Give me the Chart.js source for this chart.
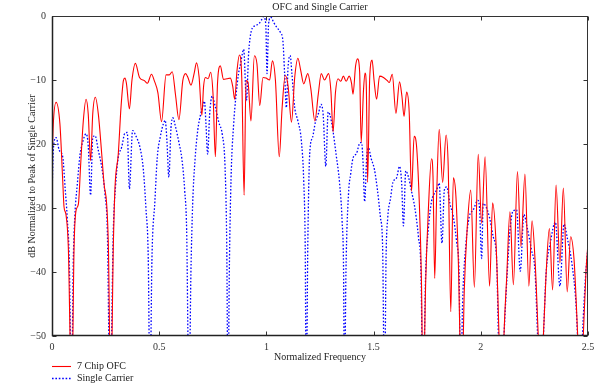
<!DOCTYPE html>
<html>
<head>
<meta charset="utf-8">
<script src="https://cdn.jsdelivr.net/npm/chart.js@4.4.1/dist/chart.umd.min.js"></script>
<style>
  html, body { margin: 0; padding: 0; background: #fff; }
  #wrap { width: 600px; height: 387px; }
</style>
</head>
<body>
<div id="wrap"><canvas id="chart" width="600" height="387"></canvas></div>
<script>
/* ---------- DATA ---------- */
const xTicks = [0, 0.5, 1, 1.5, 2, 2.5];
const yTicks = [0, -10, -20, -30, -40, -50];

// 7 Chip OFC (red, solid)
const ofcFreq = [
  0, 0.006, 0.019, 0.037, 0.050, 0.056, 0.065, 0.076, 0.092, 0.103, 0.112, 0.123, 0.134, 0.146,
  0.159, 0.169, 0.180, 0.190, 0.202, 0.216, 0.232, 0.243, 0.255, 0.263, 0.274, 0.286, 0.294,
  0.309, 0.322, 0.333, 0.340, 0.347, 0.361, 0.373, 0.389, 0.408, 0.431, 0.445, 0.464, 0.477,
  0.494, 0.511, 0.532, 0.547, 0.561, 0.576, 0.592, 0.610, 0.623, 0.634, 0.648, 0.664, 0.674,
  0.686, 0.699, 0.707, 0.716, 0.728, 0.740, 0.751, 0.762, 0.772, 0.785, 0.800, 0.816, 0.832,
  0.843, 0.852, 0.863, 0.874, 0.885, 0.896, 0.905, 0.914, 0.928, 0.944, 0.956, 0.969, 0.984,
  0.998, 1.015, 1.028, 1.042, 1.060, 1.073, 1.088, 1.101, 1.117, 1.132, 1.147, 1.160, 1.174,
  1.193, 1.207, 1.226, 1.242, 1.256, 1.271, 1.290, 1.301, 1.311, 1.322, 1.334, 1.347, 1.359,
  1.372, 1.386, 1.397, 1.404, 1.416, 1.425, 1.435, 1.442, 1.453, 1.460, 1.466, 1.472, 1.482,
  1.493, 1.502, 1.514, 1.528, 1.546, 1.564, 1.573, 1.587, 1.604, 1.621, 1.632, 1.642, 1.654,
  1.666, 1.677, 1.689, 1.700, 1.713, 1.723, 1.731, 1.743, 1.755, 1.770, 1.777, 1.785, 1.794,
  1.806, 1.822, 1.838, 1.848, 1.860, 1.872, 1.884, 1.895, 1.911, 1.923, 1.937, 1.953, 1.970,
  1.988, 2.004, 2.020, 2.041, 2.055, 2.071, 2.085, 2.097, 2.108, 2.121, 2.136, 2.152, 2.171,
  2.187, 2.206, 2.224, 2.239, 2.253, 2.268, 2.281, 2.292, 2.304, 2.320, 2.335, 2.351, 2.369,
  2.385, 2.403, 2.419, 2.435, 2.452, 2.465, 2.478, 2.491, 2.5
];
const ofcDb = [
  -23, -16.9, -13.5, -16.9, -25.7, -29.8, -31, -36, -60, -36, -30.4, -29.4, -23, -16.4,
  -13, -15.3, -22.6, -15.3, -12.7, -15.3, -21.6, -26.3, -29.4, -36, -60, -36, -26.7,
  -21.6, -14.2, -10.1, -9.7, -10.5, -14.5, -10, -7.4, -9.6, -10.1, -10.5, -9.1, -10.1,
  -12, -16.5, -9.2, -9.2, -8.7, -12.3, -16.2, -10.1, -9, -9.6, -10.8, -8.8, -7.3,
  -9.5, -15.5, -11, -9.6, -9.8, -8.8, -12.2, -22, -10.5, -7.8, -9.9, -9.8, -9.7,
  -11, -13, -8.5, -6.1, -9.6, -28, -10.1, -10.3, -16.4, -6.2, -7.5, -14, -9.6,
  -9.7, -10, -7, -10, -22, -14.5, -9.3, -10.9, -16.6, -9.6, -6.6, -8.5, -10.6,
  -9, -11.3, -16.4, -12.2, -9, -10, -9, -11.8, -18.1, -12, -9.8, -10.2, -9.4,
  -10.2, -9.4, -10.5, -12.2, -7.8, -6.7, -8.8, -19.7, -11.5, -8.9, -11, -26, -9.5,
  -6.9, -10, -13, -9.4, -9.6, -10.1, -10.4, -9.1, -15.2, -10.3, -12.5, -15.7, -11.9,
  -15, -27.4, -18.8, -20.2, -29, -41, -60, -41.5, -30.6, -22.3, -25, -41, -28.2,
  -17.7, -26, -18.6, -23.5, -46.2, -25.3, -28.2, -38.1, -60, -42.8, -32.9, -27.2, -42.4,
  -21.6, -32.4, -22, -42.2, -29.2, -35.5, -50, -65, -50, -40.7, -30.6, -42, -24.3,
  -36, -24.7, -42.2, -32, -38.1, -50, -60, -50, -40.7, -33.2, -42.8, -26.4, -38.6,
  -26.9, -43.1, -34.5, -38.1, -50, -60, -50, -39.7, -35.5
];

// Single Carrier (blue, dotted)
const scFreq = [
  0, 0.007, 0.019, 0.034, 0.050, 0.061, 0.071, 0.081, 0.091, 0.099, 0.107, 0.118, 0.131, 0.143,
  0.159, 0.169, 0.180, 0.190, 0.201, 0.216, 0.232, 0.247, 0.258, 0.271, 0.286, 0.297, 0.309,
  0.325, 0.340, 0.351, 0.361, 0.376, 0.392, 0.410, 0.426, 0.438, 0.449, 0.457, 0.466, 0.480,
  0.491, 0.505, 0.519, 0.528, 0.536, 0.545, 0.555, 0.563, 0.576, 0.591, 0.606, 0.619, 0.628,
  0.639, 0.648, 0.656, 0.667, 0.680, 0.693, 0.704, 0.711, 0.718, 0.726, 0.735, 0.747, 0.761,
  0.778, 0.794, 0.807, 0.815, 0.821, 0.827, 0.835, 0.847, 0.858, 0.870, 0.880, 0.889, 0.894,
  0.907, 0.917, 0.930, 0.948, 0.964, 0.976, 0.987, 0.997, 1.003, 1.010, 1.021, 1.034, 1.049,
  1.066, 1.077, 1.085, 1.093, 1.101, 1.111, 1.119, 1.132, 1.147, 1.163, 1.174, 1.181, 1.186,
  1.193, 1.202, 1.215, 1.229, 1.243, 1.255, 1.265, 1.277, 1.288, 1.296, 1.309, 1.325, 1.341,
  1.353, 1.360, 1.364, 1.371, 1.383, 1.393, 1.404, 1.420, 1.437, 1.444, 1.451, 1.458, 1.468,
  1.476, 1.488, 1.504, 1.518, 1.532, 1.542, 1.551, 1.558, 1.566, 1.579, 1.590, 1.607, 1.621,
  1.631, 1.639, 1.650, 1.663, 1.677, 1.692, 1.709, 1.721, 1.730, 1.743, 1.756, 1.770, 1.782,
  1.794, 1.806, 1.819, 1.830, 1.841, 1.856, 1.872, 1.888, 1.899, 1.906, 1.915, 1.931, 1.946,
  1.965, 1.986, 1.994, 2.004, 2.011, 2.024, 2.040, 2.058, 2.074, 2.082, 2.094, 2.108, 2.124,
  2.136, 2.150, 2.167, 2.184, 2.201, 2.216, 2.236, 2.253, 2.265, 2.276, 2.292, 2.304, 2.325,
  2.348, 2.369, 2.388, 2.404, 2.425, 2.444, 2.451, 2.463, 2.474, 2.489, 2.5
];
const scDb = [
  -28, -20.5, -19, -21, -22, -26.8, -31.5, -38.8, -60, -38.8, -31, -26.3, -21.6, -19.7,
  -18.4, -20.3, -28, -19, -18.7, -21, -23.6, -27.8, -33.5, -60, -33.5, -26.3, -22.1,
  -20.5, -18.3, -18.2, -27, -17.9, -18.8, -20.5, -24, -30, -38, -60, -38.2, -28.9,
  -22.1, -18.9, -16.9, -16.3, -19.5, -25.2, -17.5, -15.9, -17.3, -19.6, -22.4, -27.3, -33.5,
  -60, -40, -29.5, -22.5, -17.8, -15.4, -14, -13.3, -16.8, -21.6, -15.5, -12.5, -14.1,
  -16.6, -18.5, -23.5, -35.8, -60, -40, -25.5, -17, -12.5, -9, -7.4, -5.7, -5.2,
  -13.2, -5.9, -2.3, -1.5, -1.25, -0.7, -0.1, -1.3, -9, -1.3, -0.2, -1, -1.8,
  -2.6, -3.9, -9, -14.3, -8, -6.2, -9, -14.3, -16.4, -19.5, -25.7, -36, -60,
  -36, -21.5, -19, -16.5, -15.2, -13.8, -15.5, -23.5, -15, -15.4, -17.6, -21.6, -26,
  -32, -40, -60, -40, -27.8, -24.7, -22.2, -21.5, -19.8, -19.8, -23, -29, -22,
  -20.6, -22.2, -24, -27.2, -31.5, -36, -60, -38, -31.5, -28.5, -26, -25.3, -23.5,
  -26.2, -32.8, -24.2, -25.2, -27.4, -29.9, -34.5, -40, -60, -40, -33, -29, -27.8,
  -27.2, -26.1, -35.5, -27.2, -26.7, -29.3, -31.4, -35.5, -40.7, -60, -45, -35.5, -31.4,
  -30.3, -28.8, -30, -37.9, -29.3, -29.8, -31.4, -34.5, -38.1, -50, -60, -50, -39.7,
  -33.5, -30.5, -30.3, -39.9, -31, -33, -36.5, -40, -50, -60, -50, -40.5, -35.3,
  -32.2, -42.2, -32.5, -34.8, -38.7, -45, -50, -60, -50, -40.5, -36
];

const toPoints = (xs, ys) => xs.map((x, i) => ({ x, y: ys[i] }));

/* ---------- TEXT ---------- */
const FONT = "'Liberation Serif', 'DejaVu Serif', serif";
const TITLE = "OFC and Single Carrier";
const minus = (v) => (v < 0 ? "\u2212" + Math.abs(v) : String(v));

/* ---------- FRAME, TITLE, LEGEND ---------- */
const framePlugin = {
  id: "frame",
  afterDatasetsDraw(chart) {
    const { ctx, chartArea: a, scales } = chart;
    const L = Math.round(a.left) + 0.5, R = Math.round(a.right) - 0.5;
    const T = Math.round(a.top) + 0.5, B = Math.round(a.bottom) - 0.5;
    ctx.save();
    ctx.strokeStyle = "#333";
    ctx.lineWidth = 1;
    ctx.strokeRect(L, T, R - L, B - T);
    ctx.beginPath();
    xTicks.forEach((v) => {
      const px = Math.round(scales.x.getPixelForValue(v)) + 0.5;
      ctx.moveTo(px, B); ctx.lineTo(px, B - 4);
      ctx.moveTo(px, T); ctx.lineTo(px, T + 4);
    });
    yTicks.forEach((v) => {
      const py = Math.round(scales.y.getPixelForValue(v)) + 0.5;
      ctx.moveTo(L, py); ctx.lineTo(L + 4, py);
      ctx.moveTo(R, py); ctx.lineTo(R - 4, py);
    });
    ctx.stroke();
    // heavier left/bottom axes
    ctx.lineWidth = 1.5;
    ctx.strokeStyle = "#222";
    ctx.beginPath();
    ctx.moveTo(L, T); ctx.lineTo(L, B); ctx.lineTo(R, B);
    ctx.stroke();
    ctx.restore();
  },
  afterDraw(chart) {
    const { ctx, chartArea: a } = chart;
    ctx.save();
    ctx.fillStyle = "#222";
    ctx.font = "10px " + FONT;
    ctx.textAlign = "center";
    ctx.textBaseline = "middle";
    ctx.fillText(TITLE, (a.left + a.right) / 2, 7);

    // legend
    ctx.textAlign = "left";
    chart.data.datasets.forEach((ds, i) => {
      const y = 366 + i * 12 + 0.5;
      ctx.strokeStyle = ds.borderColor;
      ctx.lineWidth = ds.borderWidth;
      ctx.setLineDash(ds.borderDash || []);
      ctx.beginPath();
      ctx.moveTo(52, y);
      ctx.lineTo(71, y);
      ctx.stroke();
      ctx.setLineDash([]);
      ctx.fillText(ds.label, 77, y);
    });
    ctx.restore();
  },
};

/* ---------- CHART ---------- */
new Chart(document.getElementById("chart"), {
  type: "line",
  data: {
    datasets: [
      {
        label: "7 Chip OFC",
        data: toPoints(ofcFreq, ofcDb),
        borderColor: "#ff0000",
        borderWidth: 1.1,
        pointRadius: 0,
        cubicInterpolationMode: "monotone",
        fill: false,
      },
      {
        label: "Single Carrier",
        data: toPoints(scFreq, scDb),
        borderColor: "#0000ff",
        borderWidth: 1.3,
        borderDash: [1.6, 1.8],
        pointRadius: 0,
        cubicInterpolationMode: "monotone",
        fill: false,
      },
    ],
  },
  options: {
    responsive: false,
    animation: false,
    devicePixelRatio: 1,
    layout: { padding: { top: 16, right: 12, left: 0, bottom: 0 } },
    plugins: { legend: { display: false }, title: { display: false }, tooltip: { enabled: false } },
    scales: {
      x: {
        type: "linear",
        min: 0,
        max: 2.5,
        afterBuildTicks: (s) => { s.ticks = xTicks.map((v) => ({ value: v })); },
        afterFit: (s) => { s.height = 51; },
        grid: { display: false, drawTicks: false },
        border: { display: false },
        ticks: {
          color: "#333",
          font: { family: FONT, size: 10 },
          padding: 5,
          maxRotation: 0,
          callback: (v) => String(v),
        },
        title: {
          display: true,
          text: "Normalized Frequency",
          color: "#222",
          font: { family: FONT, size: 10 },
          padding: { top: 0, bottom: 24 },
        },
      },
      y: {
        type: "linear",
        min: -50,
        max: 0,
        afterBuildTicks: (s) => { s.ticks = yTicks.map((v) => ({ value: v })); },
        afterFit: (s) => { s.width = 52; },
        grid: { display: false, drawTicks: false },
        border: { display: false },
        ticks: { color: "#333", font: { family: FONT, size: 10 }, padding: 6, callback: (v) => minus(v) },
        title: {
          display: true,
          text: "dB Normalized to Peak of Single Carrier",
          color: "#222",
          font: { family: FONT, size: 10 },
          padding: { top: 26, bottom: 0 },
        },
      },
    },
  },
  plugins: [framePlugin],
});
</script>
</body>
</html>
